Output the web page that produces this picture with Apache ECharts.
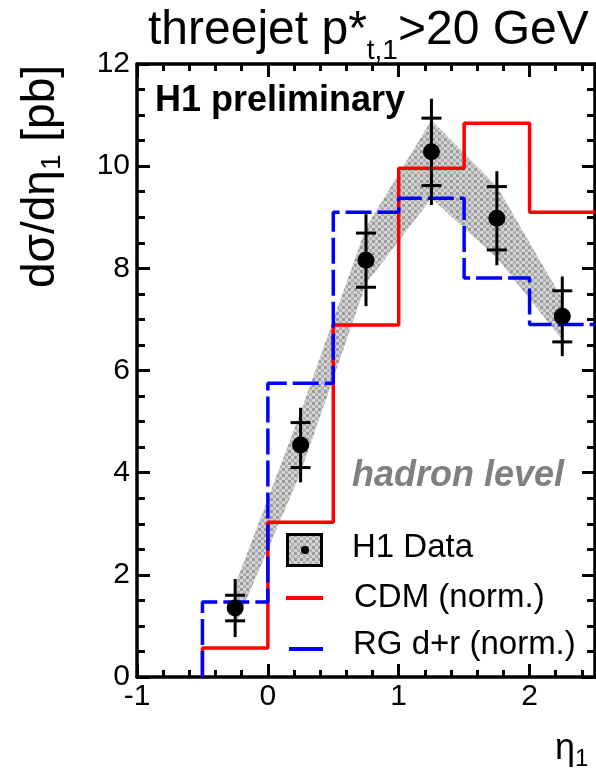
<!DOCTYPE html>
<html>
<head>
<meta charset="utf-8">
<script src="https://cdn.jsdelivr.net/npm/echarts@6/dist/echarts.min.js"></script>
<style>
  html, body { margin: 0; padding: 0; background: #ffffff; }
  #chart { width: 596px; height: 772px; }
</style>
</head>
<body>
<div id="chart"></div>
<script>
// Measured cross section, bin centres in eta_1
const etaCenters = [-0.25, 0.25, 0.75, 1.25, 1.75, 2.25];
const h1Data     = [1.35, 4.54, 8.16, 10.28, 8.98, 7.06];
const statErr    = [0.25, 0.44, 0.53, 0.66, 0.62, 0.50];
const totalErr   = [0.57, 0.73, 0.90, 1.04, 0.92, 0.78];
// Grey uncertainty band around the data
const bandUpper  = [1.80, 5.18, 8.80, 10.90, 9.60, 7.40];
const bandLower  = [1.00, 4.00, 7.70, 9.37, 8.20, 6.60];
// Model histograms (normalised), one value per bin
const binEdges   = [-0.5, 0, 0.5, 1, 1.5, 2, 2.5];
const cdmValues  = [0.57, 3.03, 6.89, 9.96, 10.84, 9.10];
const rgValues   = [1.47, 5.75, 9.10, 9.37, 7.81, 6.90];
// Axis ranges and labelled ticks
const xMin = -1, xMax = 2.5, xMajor = 1, xMinor = 0.2;
const yMin = 0, yMax = 12, yMajor = 2;
const xTickValues = [-1, 0, 1, 2];
const xTickLabels = ['-1', '0', '1', '2'];

const FONT = "'Liberation Sans', Arial, Helvetica, sans-serif";

// checkered grey fill used for the band and its legend box
const tile = document.createElement('canvas');
tile.width = 6; tile.height = 6;
const tg = tile.getContext('2d');
tg.fillStyle = '#d2d2d2'; tg.fillRect(0, 0, 6, 6);
tg.fillStyle = '#9c9c9c'; tg.fillRect(0, 0, 3, 3);
tg.fillStyle = '#b2b2b2'; tg.fillRect(3, 3, 3, 3);
const bandFill = { image: tile, repeat: 'repeat' };

// text runs with sub/superscript offsets, laid out with measured widths
const measureCtx = document.createElement('canvas').getContext('2d');
function textRun(pieces, opts) {
  let x = 0;
  const children = pieces.map(p => {
    measureCtx.font = (p.weight || 'normal') + ' ' + p.size + "px 'Liberation Sans'";
    const el = {
      type: 'text', x: x, y: p.dy || 0,
      style: { text: p.t, fontFamily: FONT, fontSize: p.size, fill: '#000', verticalAlign: 'middle', align: 'left' }
    };
    x += measureCtx.measureText(p.t).width;
    return el;
  });
  const g = { type: 'group', z: 10, children: children, x: opts.x, y: opts.y };
  if (opts.rotation) {
    g.rotation = opts.rotation;
    g.y = opts.y + x; // run ends at opts.y when read bottom-to-top
  }
  return g;
}

function stepData(vals) {
  const d = [[binEdges[0], 0]];
  vals.forEach((v, i) => d.push([binEdges[i], v]));
  d.push([binEdges[binEdges.length - 1], vals[vals.length - 1]]);
  return d;
}

const tickLine = { color: '#000', width: 3 };
function xAxisPair(position, withLabels) {
  return [
    {
      type: 'value', min: xMin, max: xMax, interval: xMajor, position: position,
      axisLine: { show: true, onZero: false, lineStyle: { color: '#000', width: 3.5 } },
      axisTick: { show: true, inside: true, length: 13, lineStyle: tickLine },
      axisLabel: withLabels ? {
        show: true, color: '#000', fontSize: 30, fontFamily: FONT, margin: 5,
        formatter: v => {
          const i = xTickValues.indexOf(Math.round(v * 100) / 100);
          return i >= 0 ? xTickLabels[i] : '';
        }
      } : { show: false },
      splitLine: { show: false }
    },
    {
      type: 'value', min: xMin, max: xMax, interval: xMinor, position: position,
      axisLine: { show: false, onZero: false },
      axisTick: { show: true, inside: true, length: 7, lineStyle: tickLine },
      axisLabel: { show: false },
      splitLine: { show: false }
    }
  ];
}
function yAxisDef(position, withLabels) {
  return {
    type: 'value', min: yMin, max: yMax, interval: yMajor, position: position,
    axisLine: { show: true, onZero: false, lineStyle: { color: '#000', width: 3.5 } },
    axisTick: { show: true, inside: true, length: 13, lineStyle: tickLine },
    minorTick: { show: true, splitNumber: 4, length: 8, lineStyle: tickLine },
    axisLabel: withLabels ? { show: true, color: '#000', fontSize: 30, fontFamily: FONT, margin: 7 } : { show: false },
    splitLine: { show: false },
    minorSplitLine: { show: false }
  };
}

const chart = echarts.init(document.getElementById('chart'), null, { renderer: 'canvas' });

const option = {
  animation: false,
  backgroundColor: '#ffffff',
  grid: { left: 137, top: 64, right: 1, bottom: 95, containLabel: false, outerBoundsMode: 'none' },
  xAxis: [].concat(xAxisPair('bottom', true), xAxisPair('top', false)),
  yAxis: [yAxisDef('left', true), yAxisDef('right', false)],
  series: [
    {
      name: 'band', type: 'custom', xAxisIndex: 0, yAxisIndex: 0, z: 2, silent: true,
      data: etaCenters.map((x, i) => [x, bandLower[i], bandUpper[i]]),
      encode: { x: 0, y: [1, 2] },
      renderItem: (params, api) => {
        if (params.dataIndex !== 0) return null;
        const pts = [];
        for (let i = 0; i < etaCenters.length; i++) pts.push(api.coord([etaCenters[i], bandUpper[i]]));
        for (let i = etaCenters.length - 1; i >= 0; i--) pts.push(api.coord([etaCenters[i], bandLower[i]]));
        return { type: 'polygon', shape: { points: pts }, style: { fill: bandFill, stroke: null } };
      }
    },
    {
      name: 'CDM (norm.)', type: 'line', step: 'end', xAxisIndex: 0, yAxisIndex: 0, z: 3,
      data: stepData(cdmValues), symbol: 'none',
      lineStyle: { color: '#ff0000', width: 3.5 }
    },
    {
      name: 'RG d+r (norm.)', type: 'line', step: 'end', xAxisIndex: 0, yAxisIndex: 0, z: 4,
      data: stepData(rgValues), symbol: 'none',
      lineStyle: { color: '#0000ff', width: 3.5, type: [26, 6] }
    },
    {
      name: 'errors', type: 'custom', xAxisIndex: 0, yAxisIndex: 0, z: 5, silent: true,
      data: etaCenters.map((x, i) => [x, h1Data[i], statErr[i], totalErr[i]]),
      encode: { x: 0, y: 1 },
      renderItem: (params, api) => {
        const x = api.value(0), y = api.value(1), s = api.value(2), t = api.value(3);
        const top = api.coord([x, y + t]), bot = api.coord([x, y - t]);
        const sHi = api.coord([x, y + s]), sLo = api.coord([x, y - s]);
        const half = 10;
        const st = { stroke: '#000', lineWidth: 3 };
        return {
          type: 'group',
          children: [
            { type: 'line', shape: { x1: top[0], y1: top[1], x2: bot[0], y2: bot[1] }, style: st },
            { type: 'line', shape: { x1: sHi[0] - half, y1: sHi[1], x2: sHi[0] + half, y2: sHi[1] }, style: st },
            { type: 'line', shape: { x1: sLo[0] - half, y1: sLo[1], x2: sLo[0] + half, y2: sLo[1] }, style: st }
          ]
        };
      }
    },
    {
      name: 'H1 Data', type: 'scatter', xAxisIndex: 0, yAxisIndex: 0, z: 6,
      data: etaCenters.map((x, i) => [x, h1Data[i]]),
      symbol: 'circle', symbolSize: 17,
      itemStyle: { color: '#000', opacity: 1 }
    }
  ],
  graphic: [
    textRun([
      { t: 'threejet p*', size: 48 },
      { t: 't,1', size: 28, dy: 20 },
      { t: '>20 GeV', size: 48 }
    ], { x: 148, y: 31 }),
    textRun([
      { t: 'd\u03c3/d\u03b7', size: 46 },
      { t: '1', size: 28, dy: 11 },
      { t: ' [pb]', size: 46 }
    ], { x: 41, y: 65, rotation: Math.PI / 2 }),
    textRun([
      { t: '\u03b7', size: 36 },
      { t: '1', size: 24, dy: 10 }
    ], { x: 555, y: 749 }),
    {
      type: 'text', x: 155, y: 101, z: 10,
      style: { text: 'H1 preliminary', fontFamily: FONT, fontWeight: 'bold', fontSize: 36, fill: '#000', verticalAlign: 'middle' }
    },
    {
      type: 'text', x: 352, y: 476, z: 10,
      style: { text: 'hadron level', fontFamily: FONT, fontWeight: 'bold', fontStyle: 'italic', fontSize: 36, fill: '#808080', verticalAlign: 'middle' }
    },
    // legend
    {
      type: 'rect', z: 10, shape: { x: 287.5, y: 534.5, width: 34, height: 31 },
      style: { fill: bandFill, stroke: '#000', lineWidth: 3 }
    },
    { type: 'circle', z: 11, shape: { cx: 305, cy: 550, r: 4 }, style: { fill: '#000' } },
    { type: 'line', z: 10, shape: { x1: 286, y1: 598, x2: 323, y2: 598 }, style: { stroke: '#ff0000', lineWidth: 4 } },
    { type: 'line', z: 10, shape: { x1: 289, y1: 649, x2: 323, y2: 649 }, style: { stroke: '#0000ff', lineWidth: 4 } },
    {
      type: 'text', x: 352, y: 548, z: 10,
      style: { text: 'H1 Data', fontFamily: FONT, fontSize: 33, fill: '#000', verticalAlign: 'middle' }
    },
    {
      type: 'text', x: 354, y: 598, z: 10,
      style: { text: 'CDM (norm.)', fontFamily: FONT, fontSize: 33, fill: '#000', verticalAlign: 'middle' }
    },
    {
      type: 'text', x: 353, y: 645, z: 10,
      style: { text: 'RG d+r (norm.)', fontFamily: FONT, fontSize: 33, fill: '#000', verticalAlign: 'middle' }
    }
  ]
};

chart.setOption(option);
</script>
</body>
</html>
